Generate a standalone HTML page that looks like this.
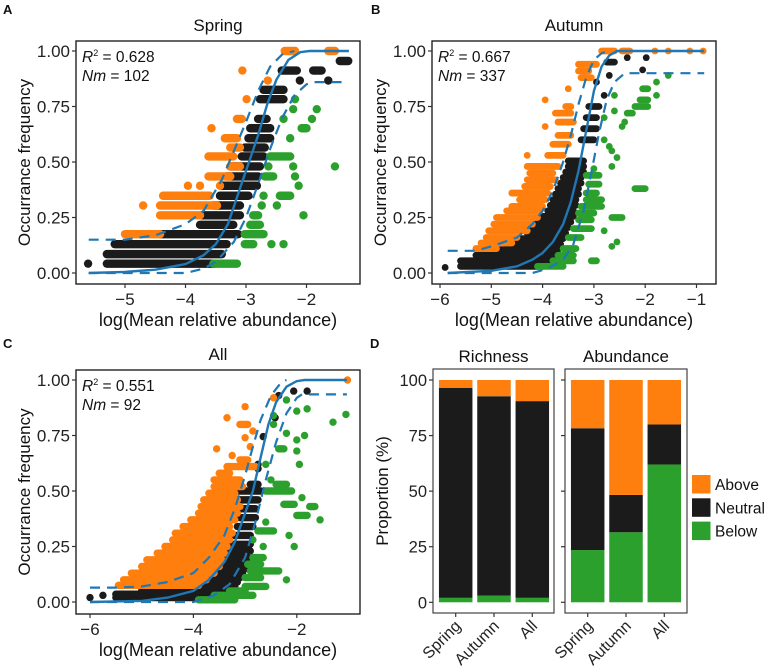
<!DOCTYPE html>
<html><head><meta charset="utf-8">
<style>
html,body{margin:0;padding:0;background:#fff;}
svg{display:block;font-family:"Liberation Sans",Arial,sans-serif;}
</style></head>
<body>
<svg id="fig" width="767" height="667" viewBox="0 0 767 667"></svg>
<script>
// ===== Panel A (Spring) data: runs [y, x0, x1] =====
const aBlack=[[0.042,-5.61],[0.042,-5.30,-3.52],[0.085,-5.30,-3.40],[0.13,-5.17,-3.32],[0.175,-4.42,-3.13],[0.217,-3.76,-3.21],[0.26,-3.73,-3.10],[0.304,-3.54,-3.10],[0.348,-3.43,-2.96],[0.393,-3.40,-2.82],[0.435,-3.32,-2.80],[0.48,-3.26,-2.77],[0.525,-3.07,-2.71],[0.565,-3.02,-2.69],[0.607,-2.96,-2.60],[0.652,-2.93,-2.60],[0.694,-2.80,-2.66],[0.783,-2.77,-2.38],[0.825,-2.71,-2.38],[0.867,-2.11],[0.867,-1.64],[0.912,-2.41,-2.16],[0.912,-1.89,-1.75],[0.955,-1.45,-1.31]];
const aOrange=[[1.0,-2.36,-2.19],[1.0,-1.64,-1.53],[0.912,-3.06],[0.867,-2.64],[0.783,-2.99],[0.694,-3.15,-3.07],[0.652,-3.57],[0.607,-3.35,-3.15],[0.565,-3.26,-3.10],[0.525,-3.62,-3.21],[0.48,-3.26,-3.10],[0.435,-3.62,-3.26],[0.393,-3.96],[0.393,-3.76],[0.393,-3.43],[0.348,-4.37,-3.60],[0.304,-4.70],[0.304,-4.42,-3.48],[0.26,-4.42,-3.76],[0.175,-5.0,-4.42]];
const aGreen=[[0.783,-2.19],[0.738,-2.22],[0.738,-1.83],[0.694,-2.38],[0.694,-1.91],[0.652,-2.08,-2.0],[0.607,-2.27],[0.525,-2.60,-2.27],[0.48,-2.63],[0.48,-2.22],[0.48,-1.53],[0.435,-2.69,-2.55],[0.435,-2.19],[0.393,-2.13],[0.348,-2.71],[0.348,-2.44,-2.27],[0.304,-2.74],[0.304,-2.49],[0.26,-2.88,-2.80],[0.26,-2.05],[0.217,-2.93,-2.77],[0.175,-3.02,-2.71],[0.13,-3.02,-2.88],[0.13,-2.58],[0.13,-2.38],[0.042,-3.54,-3.15]];
const aFitX=[-5.6,-5,-4.5,-4,-3.7,-3.5,-3.3,-3.1,-2.95,-2.8,-2.65,-2.5,-2.3,-2.1,-1.95,-1.3];
const aFitY=[0,0.005,0.015,0.04,0.08,0.13,0.22,0.38,0.5,0.62,0.76,0.87,0.96,0.995,1,1];
const aUpX=[-5.6,-5.0,-4.5,-4,-3.7,-3.4,-3.2,-3.0,-2.8,-2.6,-2.4,-2.2];
const aUpY=[0.15,0.15,0.17,0.22,0.28,0.42,0.55,0.68,0.82,0.93,0.985,1];
const aLoX=[-5.6,-4,-3.7,-3.5,-3.2,-3.0,-2.8,-2.6,-2.4,-2.2,-2.0,-1.9,-1.4];
const aLoY=[0,0,0.02,0.05,0.14,0.25,0.4,0.56,0.7,0.8,0.85,0.86,0.86];
const aXTicks=[-5,-4,-3,-2];

// ===== Panel B (Autumn) =====
const bBlack=[[0.025,-5.9],[0.03,-5.6,-4.0],[0.055,-5.6,-3.85],[0.08,-5.3,-3.75],[0.105,-5.2,-3.7],[0.13,-4.7,-3.65],[0.155,-4.5,-3.6],[0.18,-4.3,-3.55],[0.205,-4.2,-3.5],[0.23,-4.1,-3.45],[0.255,-4.0,-3.4],[0.28,-3.9,-3.4],[0.305,-3.85,-3.35],[0.33,-3.8,-3.35],[0.355,-3.75,-3.3],[0.38,-3.7,-3.3],[0.405,-3.65,-3.25],[0.43,-3.6,-3.25],[0.455,-3.55,-3.2],[0.48,-3.5,-3.2],[0.505,-3.5,-3.2],[0.6,-3.25,-3.0],[0.65,-3.2,-2.95],[0.7,-3.15,-2.95],[0.75,-3.1,-2.9],[0.8,-2.8],[0.86,-2.95],[0.89,-2.7],[0.95,-2.75,-2.6],[0.97,-2.35],[0.97,-1.98],[0.915,-2.05]];
const bOrange=[[1.0,-2.85,-2.6],[1.0,-2.45,-2.3],[1.0,-1.81],[1.0,-1.55],[1.0,-1.13],[1.0,-0.87],[0.94,-3.3,-2.95],[0.91,-3.3,-3.1],[0.88,-3.25,-3.05],[0.83,-3.5],[0.78,-3.95],[0.75,-3.55,-3.45],[0.72,-3.75,-3.45],[0.68,-3.7,-3.4],[0.66,-3.95],[0.62,-3.7,-3.45],[0.58,-3.8,-3.5],[0.53,-4.3],[0.53,-3.9,-3.6],[0.48,-4.3,-3.7],[0.45,-4.25,-3.8],[0.42,-4.3,-3.75],[0.39,-4.35,-3.85],[0.36,-4.6,-3.9],[0.33,-4.45,-3.95],[0.3,-4.6,-4.0],[0.28,-4.7,-4.05],[0.25,-4.9,-4.1],[0.22,-4.95,-4.2],[0.19,-5.05,-4.3],[0.16,-5.1,-4.5],[0.135,-5.2,-4.6],[0.11,-5.3,-4.9]];
const bGreen=[[0.89,-1.55],[0.86,-1.78],[0.83,-2.05,-1.95],[0.8,-2.6],[0.8,-1.78],[0.78,-2.1,-1.95],[0.75,-2.2,-1.95],[0.73,-2.6],[0.72,-2.35,-2.25],[0.7,-2.8],[0.68,-2.4],[0.66,-2.45],[0.6,-2.8],[0.57,-2.7],[0.55,-2.65],[0.52,-2.55],[0.48,-2.65],[0.47,-3.0],[0.44,-3.15,-2.9],[0.4,-3.1,-2.9],[0.38,-2.2,-2.0],[0.36,-3.15,-2.95],[0.33,-3.15,-2.85],[0.3,-3.25,-2.85],[0.27,-3.3,-3.0],[0.25,-2.65,-2.45],[0.24,-3.3,-3.05],[0.2,-3.4,-3.05],[0.19,-2.8],[0.16,-3.5,-3.25],[0.14,-2.55],[0.12,-2.65],[0.11,-3.6,-3.35],[0.08,-3.7,-3.4],[0.055,-3.8,-3.4],[0.055,-3.05,-2.95],[0.03,-4.1,-3.6]];
const bFitX=[-5.85,-5,-4.5,-4.2,-4,-3.8,-3.6,-3.45,-3.3,-3.15,-3.0,-2.85,-2.7,-2.55,-0.85];
const bFitY=[0,0.01,0.03,0.06,0.09,0.14,0.22,0.32,0.46,0.64,0.82,0.93,0.98,1,1];
const bUpX=[-5.85,-5.3,-5,-4.5,-4.2,-4,-3.8,-3.6,-3.45,-3.3,-3.15,-3.0,-2.85,-2.7];
const bUpY=[0.1,0.1,0.12,0.16,0.22,0.28,0.37,0.5,0.62,0.76,0.88,0.96,0.99,1];
const bLoX=[-5.85,-4.2,-3.9,-3.6,-3.4,-3.2,-3.05,-2.9,-2.75,-2.6,-2.4,-0.85];
const bLoY=[0,0,0.02,0.06,0.13,0.28,0.45,0.63,0.78,0.86,0.9,0.9];
const bXTicks=[-6,-5,-4,-3,-2,-1];

// ===== Panel C (All) =====
const cBlack=[[0.02,-6.0],[0.03,-5.75],[0.02,-5.5,-3.9],[0.035,-5.5,-3.5],[0.05,-5.0,-3.3],[0.07,-4.6,-3.2],[0.09,-4.3,-3.15],[0.11,-4.0,-3.1],[0.13,-3.8,-3.05],[0.15,-3.6,-3.0],[0.17,-3.5,-3.0],[0.2,-3.4,-2.95],[0.23,-3.3,-2.9],[0.26,-3.25,-2.9],[0.3,-3.25,-2.9],[0.34,-3.15,-2.85],[0.38,-3.1,-2.8],[0.42,-3.1,-2.8],[0.46,-3.2,-2.75],[0.5,-3.15,-2.7],[0.53,-2.9,-2.75],[0.6,-2.75],[0.62,-2.75],[0.745,-2.65],[0.83,-2.42],[0.93,-2.35],[0.95,-2.06],[0.95,-1.8]];
const cOrange=[[1.0,-1.02],[0.92,-2.45],[0.88,-3.0],[0.83,-3.35],[0.8,-3.1,-2.95],[0.77,-2.85],[0.74,-3.0],[0.7,-2.9],[0.69,-3.55],[0.66,-3.25],[0.64,-3.1,-2.95],[0.61,-3.35,-2.8],[0.58,-3.5,-3.3],[0.55,-3.6,-3.1],[0.52,-3.6,-3.05],[0.49,-3.7,-3.2],[0.46,-3.8,-3.15],[0.43,-3.85,-3.1],[0.4,-3.9,-3.15],[0.37,-4.05,-3.2],[0.34,-4.2,-3.3],[0.31,-4.35,-3.25],[0.28,-4.4,-3.3],[0.25,-4.55,-3.35],[0.22,-4.7,-3.4],[0.19,-4.9,-3.45],[0.16,-5.0,-3.5],[0.13,-5.2,-3.6],[0.1,-5.35,-3.75],[0.075,-5.45,-3.9]];
const cGreen=[[0.91,-2.2],[0.87,-1.8],[0.86,-2.0],[0.84,-2.45],[0.845,-1.05],[0.81,-1.3],[0.8,-2.45],[0.76,-2.2],[0.75,-1.85],[0.73,-2.0],[0.69,-2.35,-2.25],[0.68,-2.0],[0.62,-2.6],[0.62,-1.95],[0.55,-2.5],[0.53,-2.4,-2.2],[0.5,-2.6,-2.1],[0.47,-1.9],[0.44,-2.25,-2.05],[0.43,-1.75,-1.65],[0.39,-2.0,-1.8],[0.37,-1.55],[0.36,-2.6],[0.32,-2.75,-2.45],[0.3,-2.15],[0.28,-2.85],[0.25,-2.65],[0.25,-2.05],[0.2,-2.85,-2.65],[0.17,-2.95,-2.7],[0.14,-2.9,-2.35],[0.11,-3.0,-2.7],[0.1,-2.2],[0.07,-3.0,-2.6],[0.05,-3.3,-3.0],[0.03,-3.6,-2.85],[0.01,-3.9,-3.2]];
const cFitX=[-6,-5,-4.5,-4,-3.7,-3.4,-3.2,-3,-2.85,-2.7,-2.55,-2.4,-2.2,-2.0,-1.85,-1.03];
const cFitY=[0,0.005,0.02,0.05,0.1,0.18,0.27,0.4,0.5,0.65,0.8,0.9,0.97,0.995,1,1];
const cUpX=[-6,-5.5,-5,-4.5,-4,-3.7,-3.4,-3.2,-3.0,-2.85,-2.7,-2.5,-2.3,-2.2];
const cUpY=[0.065,0.065,0.07,0.09,0.13,0.2,0.3,0.42,0.57,0.7,0.82,0.93,0.99,1];
const cLoX=[-6,-4,-3.6,-3.3,-3.0,-2.8,-2.6,-2.4,-2.2,-2.0,-1.9,-1.03];
const cLoY=[0,0,0.03,0.08,0.2,0.36,0.55,0.72,0.85,0.92,0.935,0.935];
const cXTicks=[-6,-4,-2];

const yTicks=[0,0.25,0.5,0.75,1];
const yTickLabels=["0.00","0.25","0.50","0.75","1.00"];

// ===== Panel D =====
const dGroups=["Spring","Autumn","All"];
const richBelow=[2,3,2];
const richNeutral=[94.5,89.7,88.5];
const richAbove=[3.5,7.3,9.5];
const abunBelow=[23.5,31.5,62];
const abunNeutral=[54.8,16.8,18];
const abunAbove=[21.7,51.7,20];
const dYTicks=[0,25,50,75,100];

const NS="http://www.w3.org/2000/svg";
const svg=document.getElementById('fig');
const COL={orange:"#FF7F0E",black:"#1b1b1b",green:"#2CA02C",blue:"#1F77B4"};
function mk(tag,attrs,parent){const e=document.createElementNS(NS,tag);for(const k in attrs)e.setAttribute(k,attrs[k]);(parent||svg).appendChild(e);return e;}
function txt(s,attrs,parent){const t=mk('text',attrs,parent);t.textContent=s;return t;}

function scatterPanel(p){
  const g=mk('g',{});
  
  
  const sx=v=>p.x0px+(v-p.x0v)*p.xk;
  const sy=v=>p.y0px-v*p.yk;
  const box=mk('rect',{x:p.bx,y:p.by,width:p.bw,height:p.bh,fill:'#fff',stroke:'none'},g);
  
  
  const drawRuns=(arr,color,nm)=>{
    const gg=mk('g',{},g);
    
    
    arr.forEach(r=>{
      let e;
      if(r.length<3){e=mk('circle',{cx:sx(r[1]),cy:sy(r[0]),r:p.r,fill:color},gg);}
      else{e=mk('line',{x1:sx(r[1]),y1:sy(r[0]),x2:sx(r[2]),y2:sy(r[0]),stroke:color,'stroke-width':p.r*2,'stroke-linecap':'round'},gg);}
      
      
    });
  };
  drawRuns(p.black,COL.black,'neutral-points');
  drawRuns(p.orange,COL.orange,'above-points');
  drawRuns(p.green,COL.green,'below-points');
  const path=(xs,ys)=>xs.map((x,i)=>(i?'L':'M')+sx(x).toFixed(1)+' '+sy(ys[i]).toFixed(1)).join(' ');
  const up=mk('path',{d:path(p.upX,p.upY),fill:'none',stroke:COL.blue,'stroke-width':2.2,'stroke-dasharray':'10 7'},g);
  
  
  const lo=mk('path',{d:path(p.loX,p.loY),fill:'none',stroke:COL.blue,'stroke-width':2.2,'stroke-dasharray':'10 7'},g);
  
  
  const fit=mk('path',{d:path(p.fitX,p.fitY),fill:'none',stroke:COL.blue,'stroke-width':2.4},g);
  
  
  const border=mk('rect',{x:p.bx,y:p.by,width:p.bw,height:p.bh,fill:'none',stroke:'#222','stroke-width':1.4},g);
  
  
  p.xt.forEach(v=>{
    const x=sx(v);
    const t=mk('line',{x1:x,y1:p.by+p.bh,x2:x,y2:p.by+p.bh+4,stroke:'#333','stroke-width':1.2},g);
    
    
    const l=txt('\u2212'+Math.abs(v),{x:x,y:p.by+p.bh+21,'font-size':17,'text-anchor':'middle',fill:'#222'},g);
    
    
  });
  yTicks.forEach((v,i)=>{
    const y=sy(v);
    const t=mk('line',{x1:p.bx-4,y1:y,x2:p.bx,y2:y,stroke:'#333','stroke-width':1.2},g);
    
    
    const l=txt(yTickLabels[i],{x:p.bx-6,y:y+6,'font-size':17,'text-anchor':'end',fill:'#222'},g);
    
    
  });
  const xt=txt('log(Mean relative abundance)',{x:p.bx+p.bw/2,y:p.by+p.bh+42,'font-size':18,'text-anchor':'middle',fill:'#111'},g);
  
  
  const yt=txt('Occurrance frequency',{x:0,y:0,'font-size':17,'text-anchor':'middle',fill:'#111',transform:`translate(${p.bx-46},${p.by+p.bh/2}) rotate(-90)`},g);
  
  
  const ti=txt(p.title,{x:p.bx+p.bw/2,y:p.by-10,'font-size':17,'text-anchor':'middle',fill:'#111'},g);
  
  
  const r2=mk('text',{x:p.bx+6,y:p.by+21,'font-size':15.5,fill:'#111'},g);
  r2.innerHTML='<tspan font-style="italic">R</tspan><tspan font-size="9" dy="-6">2</tspan><tspan dy="6"> = '+p.r2+'</tspan>';
  
  
  const nm=mk('text',{x:p.bx+6,y:p.by+40,'font-size':15.5,fill:'#111'},g);
  nm.innerHTML='<tspan font-style="italic">Nm</tspan> = '+p.nm;
  
  
  const pl=txt(p.letter,{x:p.lx,y:p.ly,'font-size':13,'font-weight':'bold',fill:'#111'},g);
  
  
}

scatterPanel({name:'panel-a-spring',title:'Spring',letter:'A',lx:3,ly:14,bx:76,by:41,bw:284,bh:243,x0v:-5,x0px:125,xk:60.5,y0px:273,yk:222,r:4.2,
  black:aBlack,orange:aOrange,green:aGreen,fitX:aFitX,fitY:aFitY,upX:aUpX,upY:aUpY,loX:aLoX,loY:aLoY,xt:aXTicks,r2:'0.628',nm:'102'});
scatterPanel({name:'panel-b-autumn',title:'Autumn',letter:'B',lx:371,ly:14,bx:432,by:41,bw:284,bh:243,x0v:-6,x0px:440,xk:51.3,y0px:273,yk:222,r:3.4,
  black:bBlack,orange:bOrange,green:bGreen,fitX:bFitX,fitY:bFitY,upX:bUpX,upY:bUpY,loX:bLoX,loY:bLoY,xt:bXTicks,r2:'0.667',nm:'337'});
scatterPanel({name:'panel-c-all',title:'All',letter:'C',lx:3,ly:348,bx:76,by:370,bw:284,bh:244,x0v:-6,x0px:90,xk:51.7,y0px:602,yk:222,r:3.7,
  black:cBlack,orange:cOrange,green:cGreen,fitX:cFitX,fitY:cFitY,upX:cUpX,upY:cUpY,loX:cLoX,loY:cLoY,xt:cXTicks,r2:'0.551',nm:'92'});

// ===== Panel D =====
(function(){
  const g=mk('g',{});
  
  
  const sy=v=>602.3-v*2.223;
  const facets=[{title:'Richness',bx:433,bw:121,below:richBelow,neutral:richNeutral,above:richAbove,c0:455.7},
                {title:'Abundance',bx:565,bw:122,below:abunBelow,neutral:abunNeutral,above:abunAbove,c0:587.7}];
  facets.forEach(f=>{
    const fg=mk('g',{},g);
    
    
    dGroups.forEach((grp,i)=>{
      const cx=f.c0+i*38.3, w=33.5;
      let base=0;
      [[f.below[i],COL.green,'below'],[f.neutral[i],COL.black,'neutral'],[f.above[i],COL.orange,'above']].forEach(s=>{
        const r=mk('rect',{x:cx-w/2,y:sy(base+s[0]),width:w,height:s[0]*2.223,fill:s[1]},fg);
        
        
        base+=s[0];
      });
      const t=mk('line',{x1:cx,y1:613,x2:cx,y2:617,stroke:'#333','stroke-width':1.2},fg);
      
      
      const l=txt(grp,{x:0,y:0,'font-size':16,'text-anchor':'end',fill:'#222',transform:`translate(${cx+6},${627}) rotate(-45)`},fg);
      
      
    });
    const b=mk('rect',{x:f.bx,y:369,width:f.bw,height:244,fill:'none',stroke:'#444','stroke-width':1.2},fg);
    
    
    const st=txt(f.title,{x:f.bx+f.bw/2,y:362,'font-size':17,'text-anchor':'middle',fill:'#111'},fg);
    
    
    dYTicks.forEach(v=>{
      const t=mk('line',{x1:f.bx-4,y1:sy(v),x2:f.bx,y2:sy(v),stroke:'#333','stroke-width':1.2},fg);
      
      
    });
  });
  dYTicks.forEach(v=>{
    const l=txt(String(v),{x:427,y:sy(v)+6,'font-size':16.5,'text-anchor':'end',fill:'#222'},g);
    
    
  });
  const yt=txt('Proportion (%)',{x:0,y:0,'font-size':17,'text-anchor':'middle',fill:'#111',transform:'translate(388,491) rotate(-90)'},g);
  
  
  const pl=txt('D',{x:370,y:348,'font-size':13,'font-weight':'bold',fill:'#111'},g);
  
  
  const lg=mk('g',{},g);
  
  
  [['Above',COL.orange],['Neutral',COL.black],['Below',COL.green]].forEach((e,i)=>{
    const eg=mk('g',{},lg);
    
    
    mk('rect',{x:692,y:475+i*23.3,width:18.5,height:18.5,fill:e[1]},eg);
    txt(e[0],{x:715,y:490+i*23.3,'font-size':15.5,fill:'#111'},eg);
  });
})();
</script>
</body></html>
